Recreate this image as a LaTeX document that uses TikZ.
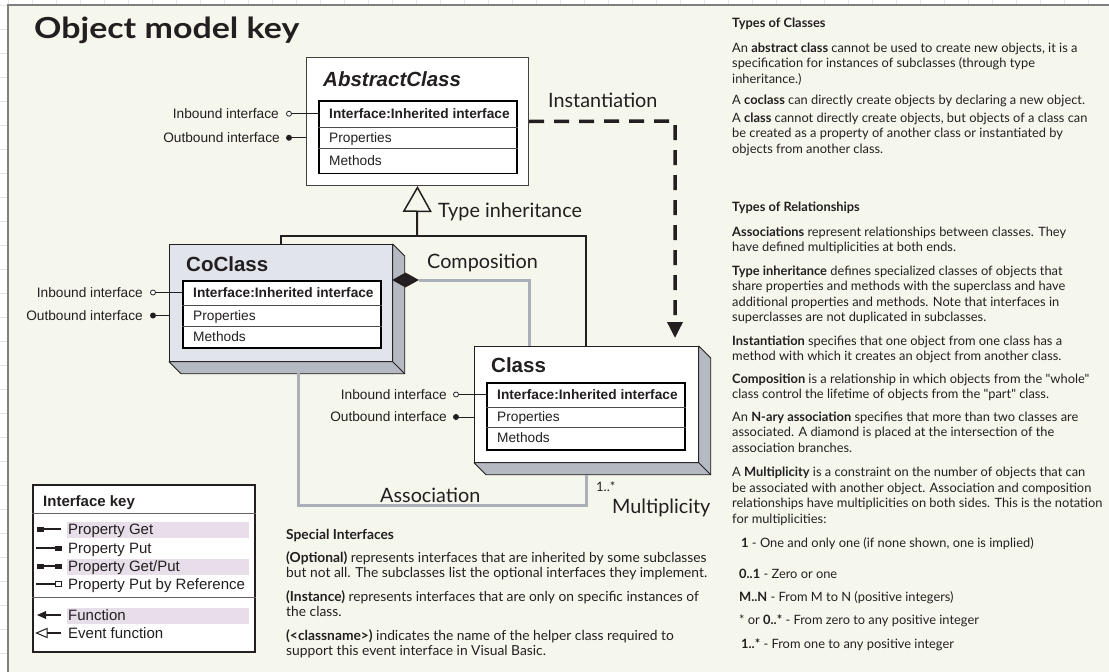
\documentclass[tikz,border=0pt]{standalone}
\usepackage{fontspec}
\setmainfont{Liberation Sans}
\newfontfamily\gill{Lato}
\newfontfamily\gillwide[FakeStretch=1.17]{Lato}
\usetikzlibrary{arrows.meta,calc,shapes.geometric}
\newcommand\fsz[1]{\fontsize{#1pt}{#1pt}\selectfont}
\definecolor{panel}{HTML}{F6F7EC}
\definecolor{gridc}{HTML}{E2E5EA}
\definecolor{txt}{HTML}{231F20}
\definecolor{cofill}{HTML}{E1E4EA}
\definecolor{side}{HTML}{B5BAC2}
\definecolor{assoc}{HTML}{A9B0BA}
\definecolor{hl}{HTML}{E7DEEA}
\begin{document}
\begin{tikzpicture}[x=1pt,y=-1pt,
  rowtxt/.style={anchor=base west, inner sep=0, font=\fsz{13.7}, text=txt},
  rowhead/.style={rowtxt, font=\bfseries\fsz{13.7}},
  lbl/.style={anchor=base east, inner sep=0, font=\fsz{13.7}, text=txt},
  rtxt/.style={anchor=base west, inner sep=0, font=\gill\fsz{12.85}, text=txt},
  stxt/.style={anchor=base west, inner sep=0, font=\gill\fsz{13.8}, text=txt},
  dlbl/.style={anchor=base west, inner sep=0, font=\gill\fsz{19.8}, text=txt},
  boxtitle/.style={anchor=base west, inner sep=0, font=\bfseries\fsz{20.5}, text=txt},
  keytxt/.style={anchor=base west, inner sep=0, font=\fsz{15}, text=txt},
  pinIn/.style={circle, draw=txt, fill=white, line width=0.8pt, minimum size=5pt, inner sep=0},
  pinOut/.style={circle, fill=txt, minimum size=6pt, inner sep=0},
  ifline/.style={draw=txt, line width=0.9pt},
  tab/.style={draw=black, line width=1.8pt, fill=white, anchor=north west, inner sep=0, minimum width=198pt},
  rowsep/.style={draw=txt!80, line width=0.8pt},
  boxthree/.style={draw=txt, line width=0.8pt, anchor=north west, inner sep=0},
  sideface/.style={fill=side, draw=txt, line width=0.8pt, line join=round},
  conn/.style={draw=txt, line width=2pt},
  gconn/.style={draw=assoc, line width=3pt},
  dashconn/.style={draw=txt, line width=3.5pt, dash pattern=on 15pt off 10pt},
  gridline/.style={draw=gridc, line width=0.7pt},
  keyicon/.style={draw=txt, line width=1.3pt}
]
\useasboundingbox (0,0) rectangle (1109,672);
% background grid and panel
\fill[white] (0,0) rectangle (1109,672);
\foreach \k in {0,...,46} \draw[gridline] (8+24*\k,0) -- (8+24*\k,672);
\foreach \k in {0,...,28} \draw[gridline] (0,5+24*\k) -- (1109,5+24*\k);
\fill[panel] (8,5) rectangle (1115,680);
\draw[draw=gray, line width=1.5pt] (8,680) -- (8,5) -- (1115,5);

% title
\node[anchor=base west, inner sep=0, font=\gillwide\bfseries\fsz{29}, text=txt] (title) at (34,38.3) {Object model key};

% ---------- AbstractClass ----------
\node[draw=txt!85, line width=1pt, fill=white, anchor=north west, inner sep=0, minimum width=222pt, minimum height=128pt] (abs) at (306,57) {};
\node[boxtitle, font=\bfseries\itshape\fsz{20.5}] (absT) at (323,86) {AbstractClass};
\node[tab, minimum height=72.5pt] (absTab) at (318,100) {};
\draw[rowsep] ($(absTab.north west)+(0,27.5)$) -- ($(absTab.north east)+(0,27.5)$);
\draw[rowsep] ($(absTab.north west)+(0,48)$) -- ($(absTab.north east)+(0,48)$);
\node[rowhead] (absR1) at (329,118.7) {Interface:Inherited interface};
\node[rowtxt] (absR2) at (329,142.7) {Properties};
\node[rowtxt] (absR3) at (329,165.2) {Methods};
\node[lbl] (absInL) at (279,118.7) {Inbound interface};
\node[lbl] (absOutL) at (280,142.7) {Outbound interface};
\node[pinIn] (absIn) at (289,113.75) {};
\node[pinOut] (absOut) at (289,137.75) {};
\draw[ifline] (absIn) -- (absIn -| absTab.west);
\draw[ifline] (absOut) -- (absOut -| abs.west);

% ---------- CoClass ----------
\node[boxthree, fill=cofill, minimum width=223pt, minimum height=117pt] (co) at (169,244) {};
\draw[sideface] (co.north east) -- ++(12,12) -- ($(co.south east)+(12,12)$) -- ($(co.south west)+(12,12)$) -- (co.south west) -- (co.south east) -- cycle;
\draw[draw=txt, line width=0.8pt] (co.south east) -- ++(12,12);
\node[boxtitle] (coT) at (186,271) {CoClass};
\node[tab, minimum height=67pt] (coTab) at (182,280) {};
\draw[rowsep] ($(coTab.north west)+(0,25)$) -- ($(coTab.north east)+(0,25)$);
\draw[rowsep] ($(coTab.north west)+(0,46)$) -- ($(coTab.north east)+(0,46)$);
\node[rowhead] (coR1) at (193,297.4) {Interface:Inherited interface};
\node[rowtxt] (coR2) at (193,320.4) {Properties};
\node[rowtxt] (coR3) at (193,341.4) {Methods};
\node[lbl] (coInL) at (143,297.4) {Inbound interface};
\node[lbl] (coOutL) at (143,320.4) {Outbound interface};
\node[pinIn] (coIn) at (153,292.5) {};
\node[pinOut] (coOut) at (153,315.5) {};
\draw[ifline] (coIn) -- (coIn -| coTab.west);
\draw[ifline] (coOut) -- (coOut -| co.west);

% ---------- Class ----------
\node[boxthree, fill=white, minimum width=224pt, minimum height=116pt] (cls) at (474,346) {};
\draw[sideface] (cls.north east) -- ++(12,12) -- ($(cls.south east)+(12,12)$) -- ($(cls.south west)+(12,12)$) -- (cls.south west) -- (cls.south east) -- cycle;
\draw[draw=txt, line width=0.8pt] (cls.south east) -- ++(12,12);
\node[boxtitle] (clsT) at (491,372) {Class};
\node[tab, minimum height=67pt] (clsTab) at (486,382) {};
\draw[rowsep] ($(clsTab.north west)+(0,25)$) -- ($(clsTab.north east)+(0,25)$);
\draw[rowsep] ($(clsTab.north west)+(0,45)$) -- ($(clsTab.north east)+(0,45)$);
\node[rowhead] (clsR1) at (497,399.4) {Interface:Inherited interface};
\node[rowtxt] (clsR2) at (497,421.9) {Properties};
\node[rowtxt] (clsR3) at (497,442.9) {Methods};
\node[lbl] (clsInL) at (447,399.4) {Inbound interface};
\node[lbl] (clsOutL) at (447,421.9) {Outbound interface};
\node[pinIn] (clsIn) at (456,394.5) {};
\node[pinOut] (clsOut) at (456,417) {};
\draw[ifline] (clsIn) -- (clsIn -| clsTab.west);
\draw[ifline] (clsOut) -- (clsOut -| cls.west);

% ---------- Type inheritance ----------
\coordinate (inhJ) at (417,236);
\draw[conn] (co.north) |- (inhJ) -| (cls.north);
\draw[conn, -{Triangle[open, length=26pt, width=29pt, line width=1.5pt]}] (inhJ) -- (abs.south);
\node[dlbl] (inhL) at (438,217) {Type inheritance};

% ---------- Instantiation ----------
\coordinate (instC) at (675,121);
\draw[dashconn, -{Triangle[length=16pt, width=15pt]}] (abs.east) -- (instC) -- ([yshift=8pt]instC |- cls.north);
\node[dlbl] (instL) at (548,107) {Instantiation};

% ---------- Composition ----------
\node[diamond, fill=txt, minimum width=27pt, minimum height=15pt, inner sep=0] (compD) at (405.5,280) {};
\coordinate (compC) at (529,280);
\draw[gconn] (compD.east) -- (compC) -- (compC |- cls.north);
\node[dlbl] (compL) at (427,268) {Composition};

% ---------- Association ----------
\coordinate (coBot) at (298,373);
\coordinate (asBL) at (298,505);
\draw[gconn] (coBot) -- (asBL) -| ($(cls.south)+(0,12)$);
\node[dlbl] (asL) at (380,502) {Association};
\node[anchor=base west, inner sep=0, font=\gill\fsz{13}, text=txt] (multN) at (596,491) {1..*};
\node[dlbl] (multL) at (612,513) {Multiplicity};

% ---------- Interface key ----------
\node[draw=txt, line width=1.5pt, fill=white, anchor=north west, inner sep=0, minimum width=222pt, minimum height=167pt] (ikey) at (32,484) {};
\node[keytxt, font=\bfseries\fsz{15}] (ikeyT) at (43,506) {Interface key};
\draw[draw=txt!70, line width=1pt] (ikey.west |- 0,513) -- (ikey.east |- 0,513);
\draw[draw=txt!70, line width=1pt] (ikey.west |- 0,597) -- (ikey.east |- 0,597);
\fill[hl] (67,522) rectangle (249,538);
\fill[hl] (67,559) rectangle (249,575);
\fill[hl] (67,608) rectangle (249,624);
\node[keytxt] (k1) at (68,534.4) {Property Get};
\node[keytxt] (k2) at (68,553.4) {Property Put};
\node[keytxt] (k3) at (68,571.4) {Property Get/Put};
\node[keytxt] (k4) at (68,589.4) {Property Put by Reference};
\node[keytxt] (k5) at (68,620.4) {Function};
\node[keytxt] (k6) at (68,638.4) {Event function};
% icons
\fill[txt] (37,526.5) rectangle (44,531.5);
\draw[keyicon] (44,529) -- (61,529);
\draw[keyicon] (36,548) -- (55,548);
\fill[txt] (55,545.5) rectangle (61.5,550.5);
\fill[txt] (37,563.5) rectangle (44,568.5);
\draw[keyicon] (44,566) -- (55,566);
\fill[txt] (55,563.5) rectangle (61.5,568.5);
\draw[keyicon] (36,584) -- (55,584);
\draw[draw=txt, fill=white, line width=1pt] (55.5,581.5) rectangle (61.5,586.5);
\fill[txt] (37,615) -- (46,611) -- (46,619) -- cycle;
\draw[keyicon] (46,615) -- (61,615);
\draw[draw=txt, fill=white, line width=1pt, line join=miter] (36.5,633) -- (47,628.5) -- (47,637.5) -- cycle;
\draw[keyicon] (47,633) -- (61,633);

% ---------- Special interfaces ----------
\node[stxt] (s1) at (286,539) {\bfseries Special Interfaces};
\node[stxt] (s2) at (286,562) {\textbf{(Optional)} represents interfaces that are inherited by some subclasses};
\node[stxt] (s3) at (286,577) {but not all. The subclasses list the optional interfaces they implement.};
\node[stxt] (s4) at (286,601) {\textbf{(Instance)} represents interfaces that are only on specific instances of};
\node[stxt] (s5) at (286,616.5) {the class.};
\node[stxt] (s6) at (286,640) {\textbf{(<classname>)} indicates the name of the helper class required to};
\node[stxt] (s7) at (286,655.5) {support this event interface in Visual Basic.};

% ---------- Right column ----------
\node[rtxt] (r1) at (732,27.5) {\bfseries Types of Classes};
\node[rtxt] (r2) at (732,52) {An \textbf{abstract class} cannot be used to create new objects, it is a};
\node[rtxt] (r3) at (732,67.5) {specification for instances of subclasses (through type};
\node[rtxt] (r4) at (732,83) {inheritance.)};
\node[rtxt] (r5) at (732,104) {A \textbf{coclass} can directly create objects by declaring a new object.};
\node[rtxt] (r6) at (732,122) {A \textbf{class} cannot directly create objects, but objects of a class can};
\node[rtxt] (r7) at (732,137.5) {be created as a property of another class or instantiated by};
\node[rtxt] (r8) at (732,153) {objects from another class.};
\node[rtxt] (r9) at (732,211) {\bfseries Types of Relationships};
\node[rtxt] (r10) at (732,236) {\textbf{Associations} represent relationships between classes. They};
\node[rtxt] (r11) at (732,251.5) {have defined multiplicities at both ends.};
\node[rtxt] (r12) at (732,275) {\textbf{Type inheritance} defines specialized classes of objects that};
\node[rtxt] (r13) at (732,290.5) {share properties and methods with the superclass and have};
\node[rtxt] (r14) at (732,306) {additional properties and methods. Note that interfaces in};
\node[rtxt] (r15) at (732,321.5) {superclasses are not duplicated in subclasses.};
\node[rtxt] (r16) at (732,345) {\textbf{Instantiation} specifies that one object from one class has a};
\node[rtxt] (r17) at (732,360.5) {method with which it creates an object from another class.};
\node[rtxt] (r18) at (732,383) {\textbf{Composition} is a relationship in which objects from the "whole"};
\node[rtxt] (r19) at (732,398.5) {class control the lifetime of objects from the "part" class.};
\node[rtxt] (r20) at (732,421) {An \textbf{N-ary association} specifies that more than two classes are};
\node[rtxt] (r21) at (732,436.5) {associated. A diamond is placed at the intersection of the};
\node[rtxt] (r22) at (732,452) {association branches.};
\node[rtxt] (r23) at (732,476.5) {A \textbf{Multiplicity} is a constraint on the number of objects that can};
\node[rtxt] (r24) at (732,492) {be associated with another object. Association and composition};
\node[rtxt] (r25) at (732,507.5) {relationships have multiplicities on both sides. This is the notation};
\node[rtxt] (r26) at (732,523) {for multiplicities:};
\node[rtxt] (m1) at (741,547) {\textbf{1} - One and only one (if none shown, one is implied)};
\node[rtxt] (m2) at (739,578) {\textbf{0..1} - Zero or one};
\node[rtxt] (m3) at (739,601) {\textbf{M..N} - From M to N (positive integers)};
\node[rtxt] (m4) at (739,624.5) {* or \textbf{0..*} - From zero to any positive integer};
\node[rtxt] (m5) at (741,648) {\textbf{1..*} - From one to any positive integer};
\end{tikzpicture}
\end{document}
